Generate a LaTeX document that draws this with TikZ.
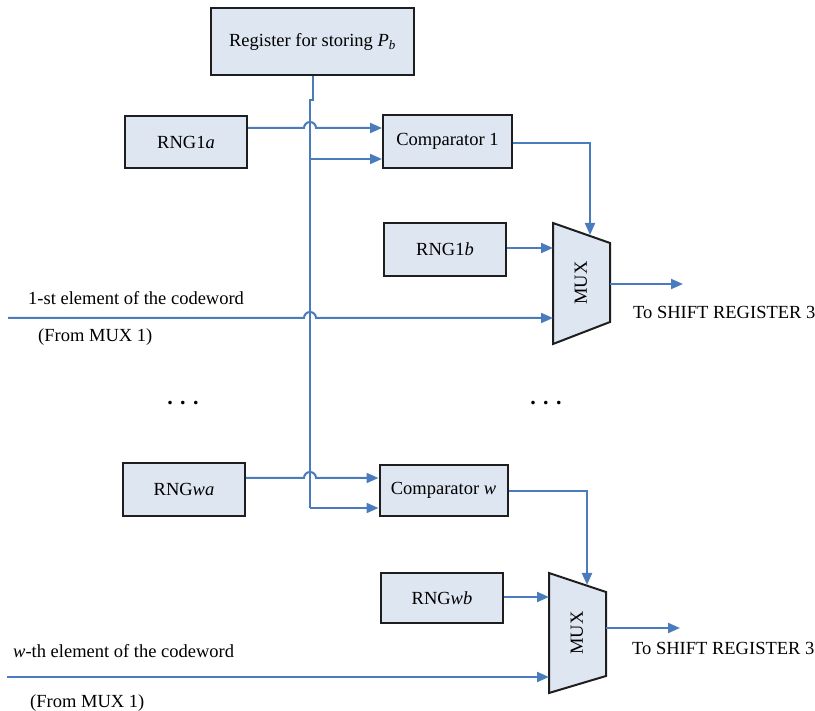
\documentclass[tikz,border=0pt]{standalone}
\usepackage{fontspec}
\setmainfont{Liberation Serif}
\usetikzlibrary{arrows.meta}
\definecolor{wire}{RGB}{74,124,189}
\definecolor{boxfill}{RGB}{222,230,242}
\definecolor{boxline}{RGB}{30,30,30}
\tikzset{
  blk/.style={draw=boxline, line width=2pt, fill=boxfill, minimum width=#1, inner sep=0pt},
  blk/.default=122pt,
  wire/.style={draw=wire, line width=2pt},
  arr/.style={wire, -{Triangle[length=12pt,width=10pt]}},
  lbl/.style={inner sep=0pt, anchor=west},
}
\begin{document}
\begin{tikzpicture}[x=1pt, y=-1pt, font=\fontsize{18.5}{22}\selectfont]
\useasboundingbox (0,0) rectangle (815,711);

% blocks
\node[blk=203pt, minimum height=67pt] (reg) at (312.5,41.5) {Register for storing \textit{P}\textsubscript{\textit{b}}};
\node[blk, minimum height=52pt] (rng1a) at (186,142) {RNG1\textit{a}};
\node[blk=129pt, minimum height=53pt] (cmp1) at (447.5,141.5) {Comparator 1};
\node[blk, minimum height=53pt] (rng1b) at (445,249.5) {RNG1\textit{b}};
\node[blk, minimum height=53pt] (rngwa) at (184,489.5) {RNG\textit{wa}};
\node[blk=128pt, minimum height=51pt] (cmpw) at (443.5,490.5) {Comparator \textit{w}};
\node[blk, minimum height=50pt] (rngwb) at (442,598) {RNG\textit{wb}};

% multiplexers
\draw[boxline, line width=2pt, fill=boxfill] (553,223) coordinate (m1tl) -- (610,243) -- (610,322) -- (553,344) coordinate (m1bl) -- cycle;
\node[rotate=90, inner sep=0pt] (mux1) at (581,283) {MUX};
\draw[boxline, line width=2pt, fill=boxfill] (549,573) coordinate (mwtl) -- (606,592) -- (606,676) -- (549,693) coordinate (mwbl) -- cycle;
\node[rotate=90, inner sep=0pt] (muxw) at (577,633) {MUX};
\coordinate (m1a) at (590,235);
\coordinate (m1b) at (553,248);
\coordinate (m1c) at (553,318);
\coordinate (m1o) at (610,284);
\coordinate (mwa) at (587,585);
\coordinate (mwb) at (549,597);
\coordinate (mwc) at (549,677);
\coordinate (mwo) at (606,628);

% P_b bus
\draw[wire] (reg.south -| 313,0) -- (313,100) -- (310,100) -- (310,508);
\draw[arr] (310,508) -- (310,508 -| cmpw.west);
\draw[arr] (310,159) -- (310,159 -| cmp1.west);

% RNG a inputs, hopping over the bus
\draw[arr] (rng1a.east |- 0,128) -- (304,128) arc[start angle=180, end angle=0, radius=6pt] -- (cmp1.west |- 0,128);
\draw[arr] (rngwa.east |- 0,478) -- (304,478) arc[start angle=180, end angle=0, radius=6pt] -- (cmpw.west |- 0,478);

% comparator outputs to the select inputs
\draw[arr] (cmp1.east |- 0,143) -| (m1a);
\draw[arr] (cmpw.east |- 0,491) -| (mwa);

% RNG b inputs
\draw[arr] (rng1b.east |- m1b) -- (m1b);
\draw[arr] (rngwb.east |- mwb) -- (mwb);

% codeword elements
\coordinate (in1) at (8,318);
\coordinate (inw) at (7,677);
\draw[arr] (in1) -- (304,318) arc[start angle=180, end angle=0, radius=6pt] -- (m1c);
\draw[arr] (inw) -- (mwc);

% outputs
\coordinate (out1) at (683,284);
\coordinate (outw) at (680,628);
\draw[arr] (m1o) -- (out1);
\draw[arr] (mwo) -- (outw);

% labels
\node[lbl] (t1) at (28,298) {1-st element of the codeword};
\node[lbl] (f1) at (38,337) {(From MUX 1)};
\node[lbl] (tw) at (13,651) {\textit{w}-th element of the codeword};
\node[lbl] (fw) at (30,703) {(From MUX 1)};
\node[lbl] (s1) at (633,312) {To SHIFT REGISTER 3};
\node[lbl] (sw) at (632,648) {To SHIFT REGISTER 3};
\node[inner sep=0pt, font=\fontsize{22}{24}\selectfont\bfseries] (d1) at (183,403) {. . .};
\node[inner sep=0pt, font=\fontsize{22}{24}\selectfont\bfseries] (d2) at (546,403) {. . .};
\end{tikzpicture}
\end{document}
